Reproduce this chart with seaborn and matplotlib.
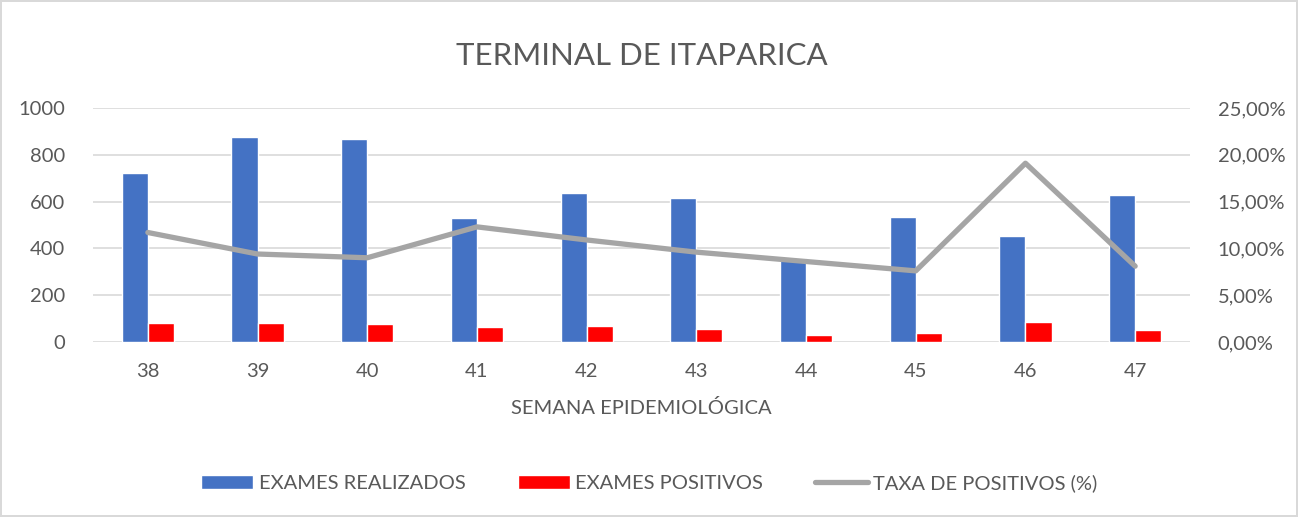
import pandas as pd
import matplotlib.pyplot as plt
import matplotlib.ticker as mticker
import seaborn as sns
import numpy as np

# data
weeks = ['38', '39', '40', '41', '42', '43', '44', '45', '46', '47']
realizados = [724, 874, 868, 528, 637, 617, 359, 536, 453, 627]
positivos = [83, 81, 77, 63, 67, 56, 29, 39, 86, 50]
taxa = [11.7, 9.4, 9.0, 12.3, 10.9, 9.6, 8.6, 7.6, 19.1, 8.1]

left_ticks = [0, 200, 400, 600, 800, 1000]
right_ticks = [0, 5, 10, 15, 20, 25]

BLUE = '#4472C4'
RED = '#FF0000'
GRAY = '#A5A5A5'
TXT = '#595959'

sns.set_theme(style='white')
plt.rcParams['font.family'] = ['Lato', 'DejaVu Sans']

df = pd.DataFrame({
    'semana': weeks * 2,
    'valor': realizados + positivos,
    'serie': ['EXAMES REALIZADOS'] * len(weeks) + ['EXAMES POSITIVOS'] * len(weeks),
})

fig = plt.figure(figsize=(12.98, 5.17), dpi=100)
fig.patch.set_edgecolor('#D9D9D9')
fig.patch.set_linewidth(1.5)
ax = fig.add_axes([93 / 1298, 1 - 342 / 517, (1190 - 93) / 1298, (342 - 108) / 517])

sns.barplot(data=df, x='semana', y='valor', hue='serie', order=weeks,
            palette=[BLUE, RED], width=0.475, saturation=1, ax=ax)
ax.set_ylim(0, 1000)
ax.set_yticks(left_ticks)
ax.yaxis.grid(True, color='#D9D9D9', linewidth=1.2)
ax.set_axisbelow(True)
for s in ax.spines.values():
    s.set_visible(False)
ax.tick_params(axis='both', length=0, labelsize=14.5, colors=TXT)
ax.tick_params(axis='y', pad=20)
ax.tick_params(axis='x', pad=15)
ax.set_xlabel('SEMANA EPIDEMIOLÓGICA', fontsize=14.5, color=TXT, labelpad=14)
ax.set_ylabel('')
ax.set_title('TERMINAL DE ITAPARICA', fontsize=22.5, color=TXT, pad=31)
ax.get_legend().remove()

ax2 = ax.twinx()
sns.lineplot(x=np.arange(len(weeks)), y=taxa, color=GRAY, linewidth=3.8,
             ax=ax2, label='TAXA DE POSITIVOS (%)')
ax2.set_ylim(0, 25)
ax2.set_yticks(right_ticks)
ax2.yaxis.set_major_formatter(mticker.FuncFormatter(lambda v, p: f'{v:.2f}%'.replace('.', ',')))
for s in ax2.spines.values():
    s.set_visible(False)
ax2.tick_params(axis='y', length=0, labelsize=14.5, colors=TXT, pad=20)
ax2.get_legend().remove()
ax.set_xlim(-0.5, len(weeks) - 0.5)

h1, l1 = ax.get_legend_handles_labels()
h2, l2 = ax2.get_legend_handles_labels()
fig.legend(h1 + h2, l1 + l2, loc='center', bbox_to_anchor=(0.5, 1 - 483 / 517),
           ncol=3, frameon=False, fontsize=14.5, labelcolor=TXT,
           handlelength=2.6, handletextpad=0.25, columnspacing=2.6)

fig.savefig('out.png', dpi=100)
